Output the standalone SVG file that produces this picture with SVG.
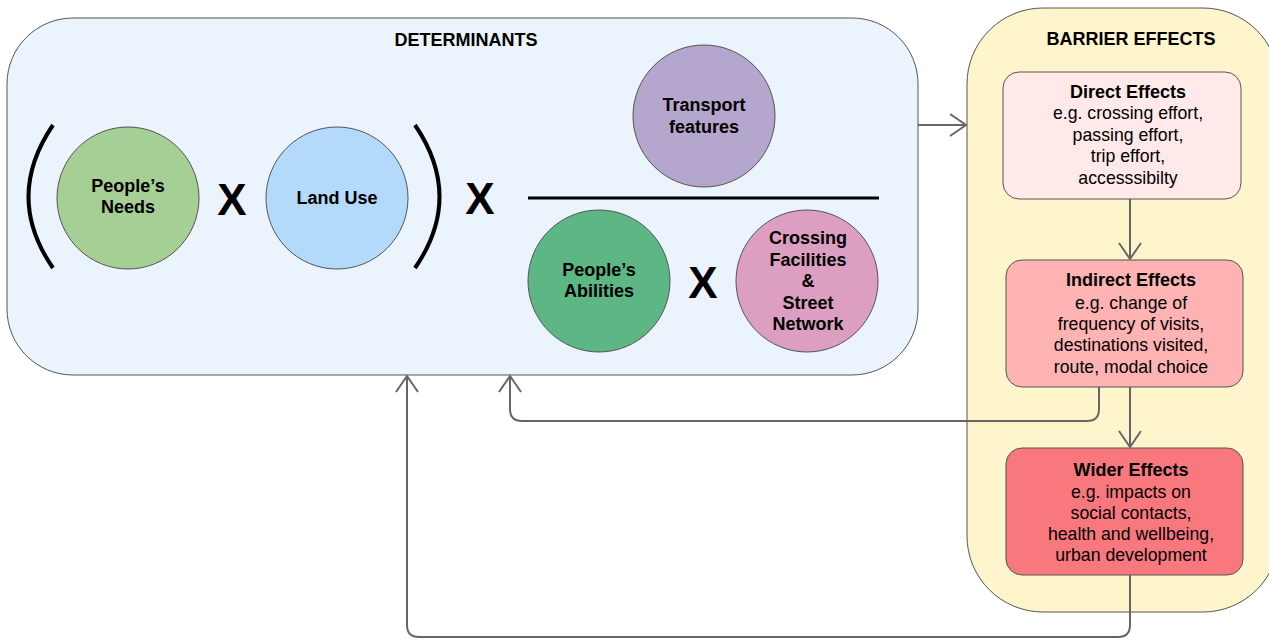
<svg xmlns="http://www.w3.org/2000/svg" width="1269" height="641" viewBox="0 0 1269 641">
<defs>
<style>
.t{font-family:"Liberation Sans",Arial,sans-serif;font-size:17.7px;fill:#000;text-anchor:middle}
.b{font-weight:bold;font-size:18px}
.x{font-family:"Liberation Sans",Arial,sans-serif;font-size:44px;font-weight:bold;fill:#000;text-anchor:middle}
.c{stroke:#555;stroke-width:1}
.conn{fill:none;stroke:#666;stroke-width:2}
.box{stroke:#555;stroke-width:1}
</style>
<marker id="arr" markerUnits="userSpaceOnUse" markerWidth="24" markerHeight="28" refX="17" refY="12" orient="auto" viewBox="0 0 24 28">
<path d="M1,1 L17,12 L1,23" fill="none" stroke="#666" stroke-width="2"/>
</marker>
</defs>
<rect width="1269" height="641" fill="#fff"/>
<g id="determinants">
<rect class="box" x="7" y="18" width="911" height="357" rx="66" fill="#ebf3fd"/>
<text class="t b" x="466" y="46">DETERMINANTS</text>
<path d="M53,125 Q4,197 53,268" fill="none" stroke="#000" stroke-width="4"/>
<path d="M415,125 Q464,197 415,268" fill="none" stroke="#000" stroke-width="4"/>
<text class="x" x="232" y="215">X</text>
<text class="x" x="480" y="214">X</text>
<line x1="528" y1="198" x2="879" y2="198" stroke="#000" stroke-width="3"/>
<text class="x" x="703" y="298">X</text>
</g>
<g id="peoples-needs">
<circle class="c" cx="128" cy="198" r="71" fill="#a6cf96"/>
<text class="t b" x="128" y="192">People’s</text>
<text class="t b" x="128" y="213">Needs</text>
</g>
<g id="land-use">
<circle class="c" cx="337" cy="198" r="71" fill="#b3dafa"/>
<text class="t b" x="337" y="204">Land Use</text>
</g>
<g id="transport-features">
<circle class="c" cx="704" cy="116" r="71" fill="#b4a6cc"/>
<text class="t b" x="704" y="111">Transport</text>
<text class="t b" x="704" y="133">features</text>
</g>
<g id="peoples-abilities">
<circle class="c" cx="599" cy="281" r="71" fill="#5db784"/>
<text class="t b" x="599" y="276">People’s</text>
<text class="t b" x="599" y="297">Abilities</text>
</g>
<g id="crossing-facilities">
<circle class="c" cx="807" cy="281" r="71" fill="#dd9fc1"/>
<text class="t b" x="808" y="244">Crossing</text>
<text class="t b" x="808" y="266">Facilities</text>
<text class="t b" x="808" y="287">&amp;</text>
<text class="t b" x="808" y="309">Street</text>
<text class="t b" x="808" y="330">Network</text>
</g>
<g id="barrier-effects">
<rect class="box" x="967" y="8" width="312" height="604" rx="76" fill="#fff5cc"/>
<text class="t b" x="1131" y="45">BARRIER EFFECTS</text>
</g>
<g id="direct-effects">
<rect class="box" x="1003" y="72" width="238" height="127" rx="16" fill="#ffe9e9"/>
<text class="t b" x="1128" y="98">Direct Effects</text>
<text class="t" x="1128" y="119">e.g. crossing effort,</text>
<text class="t" x="1128" y="141">passing effort,</text>
<text class="t" x="1128" y="162">trip effort,</text>
<text class="t" x="1128" y="184">accesssibilty</text>
</g>
<g id="indirect-effects">
<rect class="box" x="1006" y="260" width="237" height="127" rx="16" fill="#ffb3b3"/>
<text class="t b" x="1131" y="286">Indirect Effects</text>
<text class="t" x="1131" y="309">e.g. change of</text>
<text class="t" x="1131" y="330">frequency of visits,</text>
<text class="t" x="1131" y="351">destinations visited,</text>
<text class="t" x="1131" y="373">route, modal choice</text>
</g>
<g id="wider-effects">
<rect class="box" x="1006" y="448" width="237" height="127" rx="16" fill="#f8787e"/>
<text class="t b" x="1131" y="476">Wider Effects</text>
<text class="t" x="1131" y="498">e.g. impacts on</text>
<text class="t" x="1131" y="519">social contacts,</text>
<text class="t" x="1131" y="540">health and wellbeing,</text>
<text class="t" x="1131" y="561">urban development</text>
</g>
<g id="connectors">
<path class="conn" d="M918,125 H966" marker-end="url(#arr)"/>
<path class="conn" d="M1130,199 V259" marker-end="url(#arr)"/>
<path class="conn" d="M1130,387 V447" marker-end="url(#arr)"/>
<path class="conn" d="M1099,387 V409 Q1099,421 1087,421 H522 Q510,421 510,409 V376" marker-end="url(#arr)"/>
<path class="conn" d="M1130,575 V625 Q1130,637 1118,637 H419 Q407,637 407,625 V376" marker-end="url(#arr)"/>
</g>
</svg>
